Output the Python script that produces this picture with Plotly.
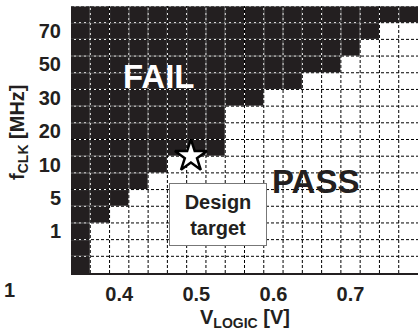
import plotly.graph_objects as go

# ---- data ----
v_logic = [0.350, 0.375, 0.400, 0.425, 0.450, 0.475, 0.500, 0.525, 0.550,
           0.575, 0.600, 0.625, 0.650, 0.675, 0.700, 0.725, 0.750, 0.775]
row_index = list(range(16))  # frequency rows, bottom (0) to top (15)
# first passing V_LOGIC column index for each frequency row (bottom -> top)
first_pass_col = [1, 1, 1, 2, 3, 4, 5, 8, 8, 8, 10, 12, 14, 15, 16, 18]
f_tick_rows = [2, 4, 6, 8, 10, 12, 14]
f_tick_labels = ["1", "5", "10", "20", "30", "50", "70"]
v_tick_vals = [0.4, 0.5, 0.6, 0.7]
v_tick_labels = ["0.4", "0.5", "0.6", "0.7"]
target_v = [0.493]
target_row = [6.5]

INK = "#231f20"
FONT = "Liberation Sans, Arial, sans-serif"

z = [[1 if i < first_pass_col[j] else 0 for i in range(len(v_logic))]
     for j in range(len(row_index))]

step = v_logic[1] - v_logic[0]
x_bounds = [v - step / 2 for v in v_logic] + [v_logic[-1] + step / 2]
y_bounds = [r - 0.5 for r in row_index] + [row_index[-1] + 0.5]

fig = go.Figure()
fig.add_trace(go.Heatmap(
    x=v_logic, y=row_index, z=z,
    colorscale=[[0, "white"], [1, INK]], zmin=0, zmax=1,
    showscale=False, hoverinfo="skip",
))

# dashed grid on cell borders: white under-line + black dashes on top
gx, gy = [], []
for xb in x_bounds[1:-1]:
    gx += [xb, xb, None]
    gy += [y_bounds[0], y_bounds[-1], None]
for yb in y_bounds[1:]:
    gx += [x_bounds[0], x_bounds[-1], None]
    gy += [yb, yb, None]
for color, dash in (("white", "solid"), ("black", "3px,2px")):
    fig.add_trace(go.Scatter(x=gx, y=gy, mode="lines",
                             line=dict(color=color, width=1, dash=dash),
                             showlegend=False, hoverinfo="skip", cliponaxis=False))

fig.add_trace(go.Scatter(
    x=target_v, y=target_row, mode="markers",
    marker=dict(symbol="star", size=24, color="white",
                line=dict(color="black", width=2.5)),
    showlegend=False, hoverinfo="skip",
))

fig.update_layout(
    width=420, height=331,
    margin=dict(l=71, r=2, t=6, b=58),
    paper_bgcolor="white", plot_bgcolor="white",
    font=dict(family=FONT, color=INK),
    showlegend=False,
)
fig.update_xaxes(
    range=[x_bounds[0], x_bounds[-1]],
    tickmode="array", tickvals=v_tick_vals, ticktext=v_tick_labels,
    tickfont=dict(size=20, weight="bold", color=INK),
    showgrid=False, zeroline=False, ticks="",
    showline=True, linecolor=INK, linewidth=2, mirror=False,
    ticklabelstandoff=2,
)
fig.update_yaxes(
    range=[y_bounds[0], y_bounds[-1]],
    tickmode="array", tickvals=f_tick_rows, ticktext=f_tick_labels,
    tickfont=dict(size=20, weight="bold", color=INK),
    showgrid=False, zeroline=False, ticks="", showline=False,
    ticklabelstandoff=9,
)

fig.add_annotation(x=0.452, y=11.3, text="<b>FAIL</b>", showarrow=False,
                   font=dict(size=33, color="white", family=FONT))
fig.add_annotation(x=0.655, y=5.0, text="<b>PASS</b>", showarrow=False,
                   font=dict(size=33, color=INK, family=FONT))
fig.add_annotation(x=0.528, y=3.0, text="<b>Design<br>target</b>", showarrow=False,
                   font=dict(size=20, color=INK, family=FONT),
                   bgcolor="white", bordercolor="#777777", borderwidth=1,
                   borderpad=2, width=92, height=57)
fig.add_annotation(xref="paper", yref="paper", x=0.5, y=-0.172,
                   xanchor="center", yanchor="middle",
                   text="<b>V<sub>LOGIC</sub> [V]</b>", showarrow=False,
                   font=dict(size=20, color=INK, family=FONT))
fig.add_annotation(xref="paper", yref="paper", x=-0.153, y=0.528,
                   xanchor="center", yanchor="middle",
                   text="<b>f<sub>CLK</sub> [MHz]</b>", showarrow=False,
                   textangle=-90, font=dict(size=20, color=INK, family=FONT))
fig.add_annotation(xref="paper", yref="paper", x=-0.176, y=-0.064,
                   xanchor="center", yanchor="middle",
                   text="<b>1</b>", showarrow=False,
                   font=dict(size=20, color=INK, family=FONT))

fig.write_html("out.html")
